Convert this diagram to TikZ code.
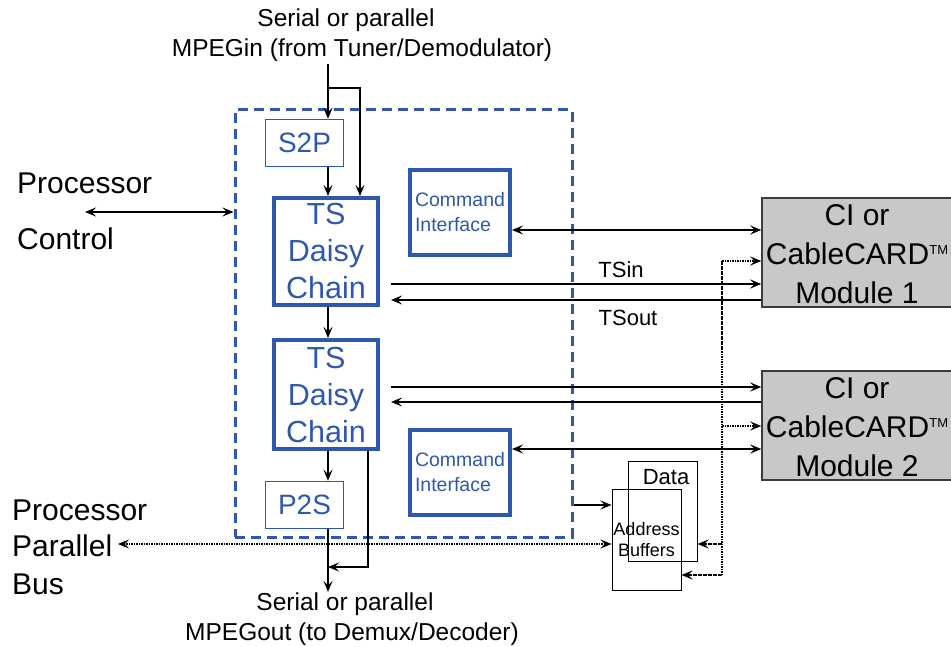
\documentclass[tikz,border=0pt]{standalone}
\usepackage{fontspec}
\setmainfont{Liberation Sans}
\usetikzlibrary{arrows.meta,calc}
\definecolor{tiblue}{RGB}{46,88,170}
\definecolor{modgray}{RGB}{200,200,200}
\definecolor{modedge}{RGB}{60,60,60}
\begin{document}
\begin{tikzpicture}[x=1pt,y=-1pt,
  tip/.style={-{Stealth[length=11pt,width=9pt,inset=4.5pt]}},
  dbl/.style={{Stealth[length=11pt,width=9pt,inset=4.5pt]}-{Stealth[length=11pt,width=9pt,inset=4.5pt]}},
  wire/.style={line width=2.2pt,black},
  thinwire/.style={line width=1.4pt,black},
  dotl/.style={line width=2.4pt,black,dash pattern=on 1.6pt off 0.9pt},
  txt/.style={inner sep=0pt,text=black},
  tsbox/.style={draw=tiblue,line width=4pt,text=tiblue,align=center,inner sep=0pt,
     minimum width=104pt,font=\fontsize{30.5}{37}\selectfont},
  cibox/.style={draw=tiblue,line width=4pt,text=tiblue,align=left,inner sep=0pt,
     minimum width=100pt,minimum height=85pt,font=\fontsize{19.5}{25}\selectfont},
  convbox/.style={draw=tiblue,line width=1.5pt,text=tiblue,inner sep=0pt,
     minimum width=78pt,minimum height=47pt,font=\fontsize{28}{32}\selectfont},
  chipbox/.style={draw=tiblue,line width=3pt,dash pattern=on 10pt off 6pt,
     minimum width=337pt,minimum height=427pt,inner sep=0pt},
  modbox/.style={draw=modedge,fill=modgray,line width=1.5pt,inner sep=0pt,
     minimum width=200pt,minimum height=109pt},
  modtxt/.style={inner sep=0pt,align=center,font=\fontsize{30}{39}\selectfont},
  bufbox/.style={draw=black,line width=1pt,inner sep=0pt,align=center},
  big/.style={font=\fontsize{30}{36}\selectfont},
  mid/.style={font=\fontsize{24.5}{29}\selectfont},
  lab/.style={font=\fontsize{22}{26}\selectfont}
]
\path[use as bounding box] (0,0) rectangle (951,647);
\clip (0,0) rectangle (951,647);

% top / bottom labels
\node[txt,mid] (inA) at (346,20) {Serial or parallel};
\node[txt,mid] (inB) at (362,50) {MPEGin (from Tuner/Demodulator)};
\node[txt,mid] (outA) at (345,604) {Serial or parallel};
\node[txt,mid] (outB) at (352,634) {MPEGout (to Demux/Decoder)};

% left labels
\node[txt,big,anchor=west] (pc1) at (17,183) {Processor};
\node[txt,big,anchor=west] (pc2) at (17,239) {Control};
\node[txt,big,anchor=west] (pb1) at (12,510) {Processor};
\node[txt,big,anchor=west] (pb2) at (12,546) {Parallel};
\node[txt,big,anchor=west] (pb3) at (12,584) {Bus};

% chip
\node[chipbox] (chip) at (403.5,323.5) {};
\node[convbox] (s2p) at (304.5,143) {S2P};
\node[tsbox,minimum height=107pt] (ts1) at (326,251.5) {TS\\Daisy\\Chain};
\node[tsbox,minimum height=109pt] (ts2) at (326,394.5) {TS\\Daisy\\Chain};
\node[convbox] (p2s) at (304.5,505) {P2S};
\node[cibox] (ci1) at (460,212.5) {Command\\Interface};
\node[cibox] (ci2) at (460,472.5) {Command\\Interface};

% modules
\node[modbox] (m1) at (862,252.5) {};
\node[modtxt] (m1t) at (857,254) {CI or\\CableCARD\raisebox{10pt}{\fontsize{13}{13}\selectfont TM}\\Module 1};
\node[modbox] (m2) at (862,425.5) {};
\node[modtxt] (m2t) at (857,427) {CI or\\CableCARD\raisebox{10pt}{\fontsize{13}{13}\selectfont TM}\\Module 2};

% buffers
\node[bufbox,minimum width=69pt,minimum height=100pt] (db) at (662.5,511) {};
\node[txt,lab] (dlab) at (666,477) {Data};
\node[bufbox,minimum width=69pt,minimum height=101pt,font=\fontsize{18}{21}\selectfont] (ab) at (646.5,539.5) {Address\\Buffers};

% TS labels
\node[txt,lab] (tsin) at (621,270) {TSin};
\node[txt,lab] (tsout) at (628,318) {TSout};

% coordinates
\coordinate (cx) at (328,0);
\coordinate (inTop) at (328,64);
\coordinate (br) at (328,88);
\coordinate (brr) at (360,88);
\coordinate (byp) at (368,567);
\coordinate (outEnd) at (328,592);
\coordinate (pcl) at (85,212);
\coordinate (pbl) at (118,544);
\coordinate (tsx) at (391,0);
\coordinate (vt) at (722,261);
\coordinate (vb) at (722,575);

% input path
\draw[wire,tip] (inTop) -- (s2p.north -| cx);
\draw[wire,tip] (br) -- (brr) -- (ts1.north -| brr);
\draw[wire,tip] (s2p.south -| cx) -- (ts1.north -| cx);
\draw[wire,tip] (ts1.south -| cx) -- (ts2.north -| cx);
\draw[wire,tip] (ts2.south -| cx) -- (p2s.north -| cx);
\draw[wire,tip] (p2s.south -| cx) -- (outEnd);
\draw[thinwire,tip] (ts2.south -| byp) -- (byp) -- (byp -| cx);

% processor control
\draw[wire,dbl] (pcl) -- (pcl -| chip.west);

% command interfaces
\draw[wire,dbl] (ci1.east |- 0,230) -- (m1.west |- 0,230);
\draw[wire,dbl] (ci2.east |- 0,449) -- (m2.west |- 0,449);

% TS links
\draw[wire,tip] (tsx |- 0,284) -- (m1.west |- 0,284);
\draw[wire,tip] (m1.west |- 0,300) -- (tsx |- 0,300);
\draw[wire,tip] (tsx |- 0,387) -- (m2.west |- 0,387);
\draw[wire,tip] (m2.west |- 0,402) -- (tsx |- 0,402);

% chip to address buffers
\draw[wire,tip] (chip.east |- 0,505) -- (ab.west |- 0,505);

% dotted bus lines
\draw[dotl] (vt) -- (vb);
\draw[dotl,tip] (vt) -- (vt -| m1.west);
\draw[dotl,tip] (vt |- 0,426) -- (m2.west |- 0,426);
\draw[dotl,tip] (vt |- 0,544) -- (db.east |- 0,544);
\draw[dotl,tip] (vb) -- (vb -| ab.east);
\draw[dotl,dbl] (pbl) -- (pbl -| ab.west);
\end{tikzpicture}
\end{document}
